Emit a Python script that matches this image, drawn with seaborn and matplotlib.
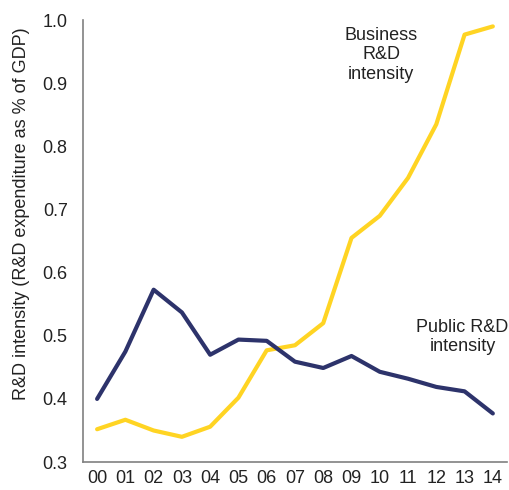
import pandas as pd
import matplotlib
matplotlib.use("Agg")
import matplotlib.pyplot as plt
import seaborn as sns

years = ["00", "01", "02", "03", "04", "05", "06", "07", "08", "09", "10", "11", "12", "13", "14"]
public_rd = [0.400, 0.475, 0.573, 0.537, 0.470, 0.494, 0.492, 0.459, 0.449, 0.468, 0.443, 0.432, 0.419, 0.412, 0.377]
business_rd = [0.352, 0.367, 0.350, 0.340, 0.356, 0.402, 0.477, 0.485, 0.520, 0.655, 0.690, 0.750, 0.835, 0.977, 0.990]

df = pd.DataFrame({"idx": range(len(years)), "public": public_rd, "business": business_rd})

sns.set_theme(style="white")
plt.rcParams["font.family"] = ["Liberation Sans", "DejaVu Sans"]

fig = plt.figure(figsize=(5.09, 4.90), dpi=100)
ax = fig.add_axes([0.163, 0.057, 0.833, 0.902])

sns.lineplot(data=df, x="idx", y="business", color="#FFD423", linewidth=3, ax=ax)
sns.lineplot(data=df, x="idx", y="public", color="#2D336B", linewidth=3, ax=ax)

ax.set_xlim(-0.5, 14.5)
ax.set_ylim(0.3, 1.0)
ax.set_xticks(range(len(years)))
ax.set_xticklabels(years)
yticks = [0.3, 0.4, 0.5, 0.6, 0.7, 0.8, 0.9, 1.0]
ax.set_yticks(yticks)
ax.set_yticklabels([f"{v:.1f}" for v in yticks])
ax.tick_params(axis="both", labelsize=13, length=0, colors="#222222")
ax.tick_params(axis="x", pad=6)
ax.tick_params(axis="y", pad=11)
ax.set_xlabel("")
ax.set_ylabel("R&D intensity (R&D expenditure as % of GDP)", fontsize=13, color="#222222")
ax.yaxis.set_label_coords(-0.125, 0.562)

for side in ["top", "right"]:
    ax.spines[side].set_visible(False)
for side in ["left", "bottom"]:
    ax.spines[side].set_color("#808080")
    ax.spines[side].set_linewidth(1.2)

ax.text(10.05, 0.945, "Business\nR&D\nintensity", ha="center", va="center", fontsize=13, color="#222222", linespacing=1.2)
ax.text(12.93, 0.498, "Public R&D\nintensity", ha="center", va="center", fontsize=13, color="#222222", linespacing=1.2)

fig.savefig("out.png", dpi=100)
